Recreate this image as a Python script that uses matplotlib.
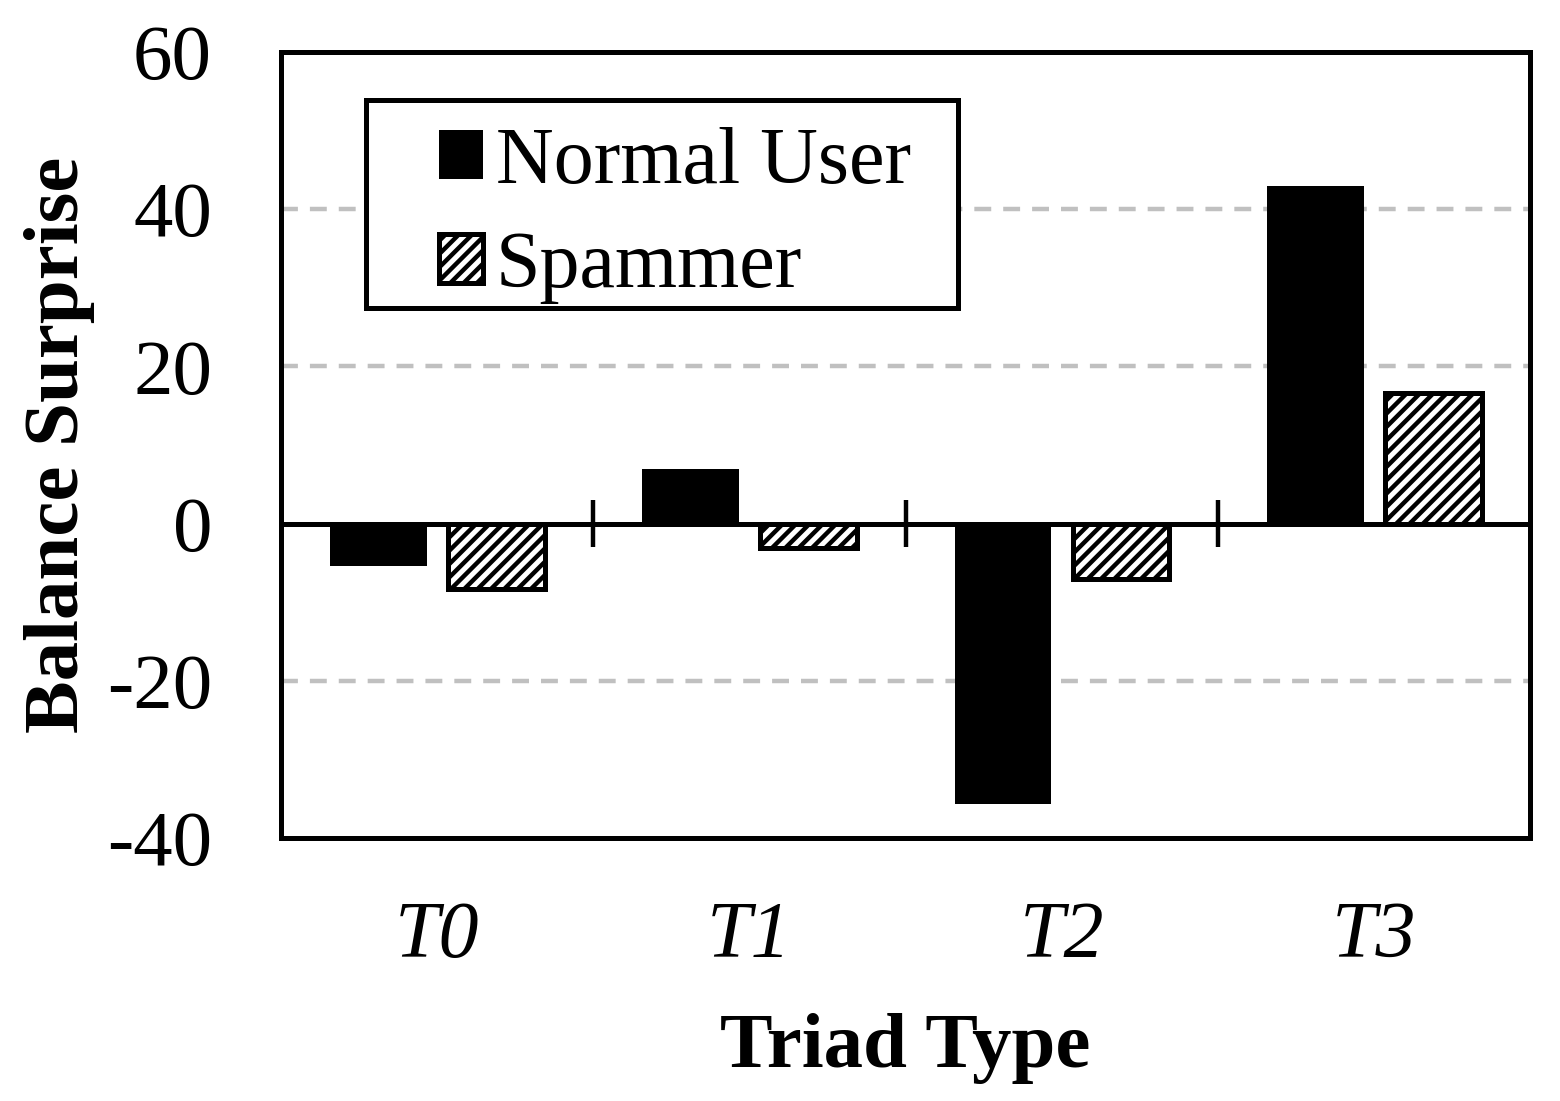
import numpy as np
import matplotlib
matplotlib.use("Agg")
import matplotlib.pyplot as plt
from matplotlib.patches import Rectangle

categories = ["T0", "T1", "T2", "T3"]
normal_user = [-5.4, 6.9, -35.7, 42.9]
spammer = [-8.3, -3.1, -7.1, 16.6]
y_ticks = [-40, -20, 0, 20, 40, 60]

plt.rcParams["font.family"] = ["Liberation Serif", "DejaVu Serif"]
plt.rcParams["hatch.linewidth"] = 4.0

DPI = 80
fig = plt.figure(figsize=(1560 / DPI, 1101 / DPI), dpi=DPI)
ax = fig.add_axes([0.1801, 0.2389, 0.8007, 0.7139])

x = np.arange(len(categories))
w = 0.31
ax.bar(x - 0.188, normal_user, w, color="black", edgecolor="black",
       linewidth=0, label="Normal User", zorder=3)
ax.bar(x + 0.19, spammer, w, color="white", edgecolor="black",
       linewidth=4.5, hatch="//", label="Spammer", zorder=3)

ax.set_xlim(-0.5, len(categories) - 0.5)
ax.set_ylim(-40, 60)
ax.set_yticks(y_ticks)
ax.set_yticklabels([str(t) for t in y_ticks], fontsize=71)
ax.tick_params(axis="y", length=0, pad=62)

ax.set_xticks(x)
ax.set_xticklabels(categories, fontsize=72, style="italic")
ax.tick_params(axis="x", length=0, pad=57)

for t in [20, 40, -20]:
    ax.axhline(t, color="#c0c0c0", linewidth=4, linestyle=(0, (3.8, 2.7)), zorder=1)

# zero line with category separators
ax.axhline(0, color="black", linewidth=4.5, zorder=4)
ax.vlines(x[:-1] + 0.5, -3, 3, color="black", linewidth=4, zorder=4)

for s in ax.spines.values():
    s.set_linewidth(4.5)
    s.set_zorder(5)

ax.set_xlabel("Triad Type", fontsize=71, fontweight="bold", labelpad=35)
ax.set_ylabel("Balance Surprise", fontsize=71, fontweight="bold", labelpad=11)

# legend box drawn separately so padding matches
ax.add_patch(Rectangle((0.068, 0.674), 0.474, 0.265, transform=ax.transAxes,
                       facecolor="white", edgecolor="black", linewidth=4.5,
                       zorder=6))
leg = ax.legend(loc="upper left", bbox_to_anchor=(0.1265, 0.905), fontsize=72,
                frameon=False, handlelength=0.55, handleheight=0.56,
                handletextpad=0.16, borderpad=0, labelspacing=0.39,
                borderaxespad=0)
leg.set_zorder(7)

fig.savefig("out.png", dpi=DPI)
